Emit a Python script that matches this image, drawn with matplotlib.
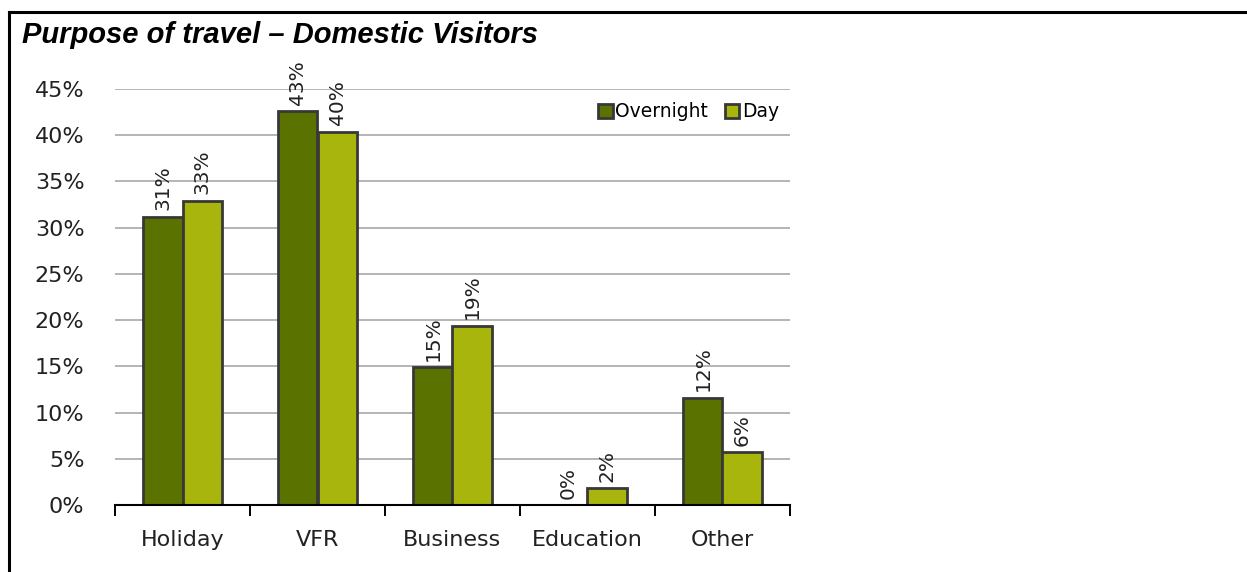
import matplotlib
matplotlib.use("Agg")
import matplotlib.pyplot as plt
from matplotlib.lines import Line2D
import numpy as np

categories = ["Holiday", "VFR", "Business", "Education", "Other"]
overnight = [31.2, 42.6, 14.9, 0.0, 11.6]
day = [32.9, 40.4, 19.4, 1.8, 5.7]
yticks = [0, 5, 10, 15, 20, 25, 30, 35, 40, 45]
ytick_labels = [f"{t}%" for t in yticks]

c_over = "#5a7200"
c_day = "#a8b50c"
c_edge = "#383838"

fig = plt.figure(figsize=(12.47, 5.72), dpi=100)
ax = fig.add_axes([115 / 1247, 1 - 505 / 572, 675 / 1247, 416 / 572])

x = np.arange(len(categories))
w = 0.29
b1 = ax.bar(x - w / 2, overnight, w, color=c_over, edgecolor=c_edge, linewidth=2,
            label="Overnight", zorder=3)
b2 = ax.bar(x + w / 2, day, w, color=c_day, edgecolor=c_edge, linewidth=2,
            label="Day", zorder=3)

# rotated value labels above each bar
for bars, vals in ((b1, overnight), (b2, day)):
    for r, v in zip(bars, vals):
        ax.text(r.get_x() + r.get_width() / 2, v + 0.7, f"{v:.0f}%",
                rotation=90, ha="center", va="bottom", fontsize=14.5,
                color="#222222", zorder=4)

ax.set_xlim(-0.5, len(categories) - 0.5)
ax.set_ylim(0, 45)
ax.set_yticks(yticks)
ax.set_yticklabels(ytick_labels)
ax.set_xticks(x)
ax.set_xticklabels(categories)
ax.set_xticks(np.arange(len(categories) + 1) - 0.5, minor=True)
ax.tick_params(axis="y", length=0, pad=22, labelsize=16, labelcolor="#222222")
ax.tick_params(axis="x", which="major", length=0, pad=18, labelsize=16,
               labelcolor="#222222")
ax.tick_params(axis="x", which="minor", length=8, width=1.4, color="black",
               direction="out")

ax.grid(axis="y", color="#a8a8a8", linewidth=1.2, zorder=0)
for s in ("left", "right", "top"):
    ax.spines[s].set_visible(False)
ax.spines["bottom"].set_linewidth(1.5)
ax.spines["bottom"].set_zorder(5)

ax.legend(loc="center right", bbox_to_anchor=(0.995, 0.945), ncol=2, frameon=False,
          fontsize=13.5, handlelength=0.75, handleheight=0.75, handletextpad=0.15,
          columnspacing=0.9, borderaxespad=0)

fig.text(22 / 1247, 1 - 43 / 572, "Purpose of travel \u2013 Domestic Visitors",
         fontsize=21, fontweight="bold", fontstyle="italic",
         family="Liberation Sans", va="baseline", ha="left")

# frame lines along the top and left edges
fig.add_artist(Line2D([9 / 1247, 9 / 1247], [0, 1 - 12 / 572], color="black",
                      linewidth=2.2, transform=fig.transFigure))
fig.add_artist(Line2D([9 / 1247, 1], [1 - 12 / 572, 1 - 12 / 572], color="black",
                      linewidth=2.2, transform=fig.transFigure))

fig.savefig("out.png", dpi=100)
